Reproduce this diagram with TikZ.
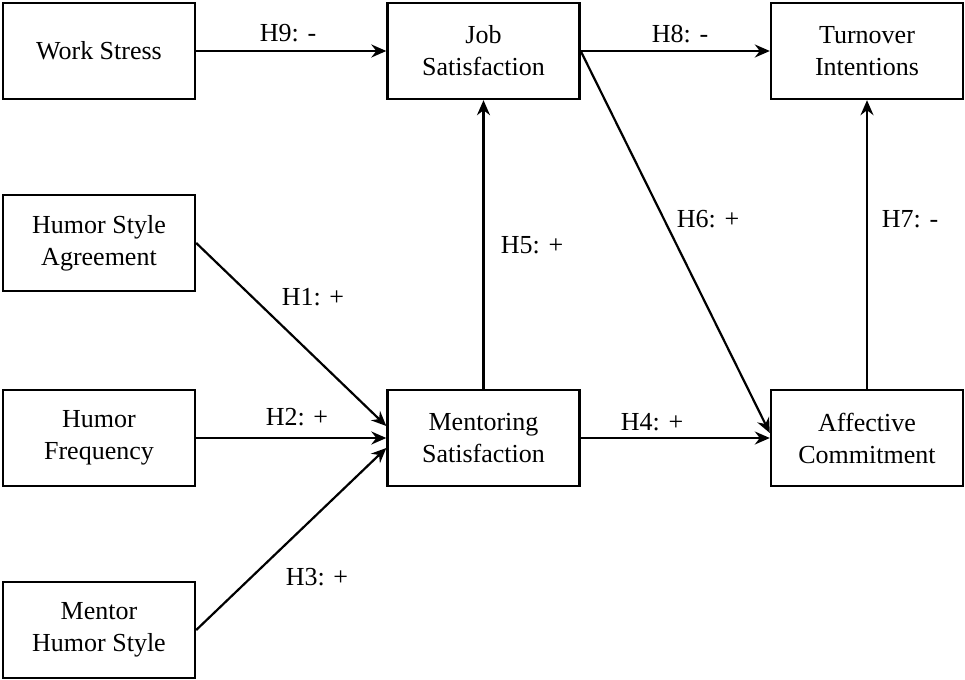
\documentclass[tikz,border=0pt]{standalone}
\usepackage{fontspec}
\setmainfont{Liberation Serif}
\usetikzlibrary{arrows.meta}
\begin{document}
\begin{tikzpicture}[x=1pt,y=-1pt,
  box/.style={draw, line width=2.4pt, minimum width=192pt, minimum height=96pt,
    align=center, inner sep=0pt, font=\fontsize{26}{32}\selectfont},
  lab/.style={font=\fontsize{26}{32}\selectfont, inner sep=0pt},
  conn/.style={line width=2.2pt, -{Stealth[length=15pt,width=13pt,inset=5pt]}}]
\useasboundingbox (0,0) rectangle (965,679);
\fill[white] (0,0) rectangle (965,679);
% boxes
\node[box] (ws)  at (99,51)    {Work Stress};
\node[box] (js)  at (483.5,51) {Job\\Satisfaction};
\node[box] (ti)  at (867,51)   {Turnover\\Intentions};
\node[box] (hsa) at (99,243)   {Humor Style\\Agreement};
\node[box] (hf)  at (99,438)   {Humor\\Frequency};
\node[box] (mhs) at (99,630)   {Mentor\\Humor Style};
\node[box] (ms)  at (483.5,438) {Mentoring\\Satisfaction};
\node[box] (ac)  at (867,438)  {Affective\\Commitment};
% connectors
\draw[conn] (ws.east) -- (js.west);
\draw[conn] (js.east) -- (ti.west);
\draw[conn] (js.east) -- ([yshift=5pt]ac.west);
\draw[conn] (ms.north) -- (js.south);
\draw[conn] (ac.north) -- (ti.south);
\draw[conn] (ms.east) -- (ac.west);
\draw[conn] (hsa.east) -- ([yshift=12pt]ms.west);
\draw[conn] (hf.east) -- (ms.west);
\draw[conn] (mhs.east) -- ([yshift=-10pt]ms.west);
% labels
\node[lab] (l9) at (288,33)  {H9: -};
\node[lab] (l8) at (680,34)  {H8: -};
\node[lab] (l1) at (313,297) {H1: +};
\node[lab] (l2) at (297,417) {H2: +};
\node[lab] (l3) at (317,577) {H3: +};
\node[lab] (l4) at (652,422) {H4: +};
\node[lab] (l5) at (532,245) {H5: +};
\node[lab] (l6) at (708,219) {H6: +};
\node[lab] (l7) at (910,219) {H7: -};
\end{tikzpicture}
\end{document}
